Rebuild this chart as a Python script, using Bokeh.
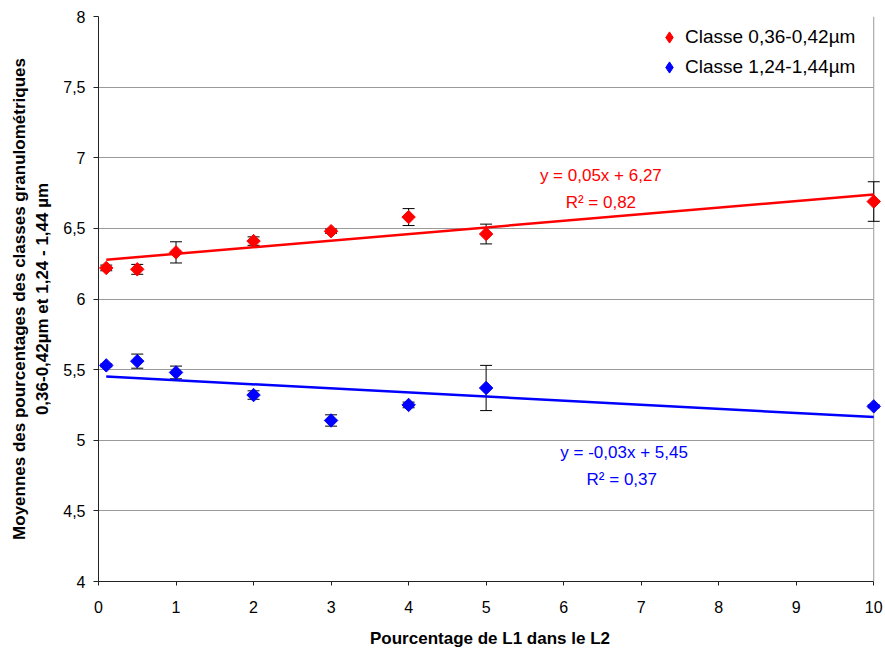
import numpy as np
from bokeh.plotting import figure
from bokeh.models import (ColumnDataSource, Whisker, TeeHead, FixedTicker, Label,
                          Legend, LegendItem, Range1d, Span)
from bokeh.embed import file_html
from bokeh.resources import INLINE

# ---- data ----
x_vals = [0.1, 0.5, 1, 2, 3, 4, 5, 10]
red_y = [6.22, 6.21, 6.33, 6.41, 6.48, 6.58, 6.46, 6.69]
red_err = [0.02, 0.035, 0.075, 0.03, 0.015, 0.06, 0.07, 0.14]
blue_y = [5.53, 5.56, 5.48, 5.32, 5.14, 5.25, 5.37, 5.24]
blue_err = [0.01, 0.05, 0.045, 0.03, 0.04, 0.02, 0.16, 0.01]
red_name = "Classe 0,36-0,42µm"
blue_name = "Classe 1,24-1,44µm"
red_eq = ["y = 0,05x + 6,27", "R² = 0,82"]
blue_eq = ["y = -0,03x + 5,45", "R² = 0,37"]
x_ticks = [0, 1, 2, 3, 4, 5, 6, 7, 8, 9, 10]
y_ticks = [4, 4.5, 5, 5.5, 6, 6.5, 7, 7.5, 8]
y_tick_labels = ["4", "4,5", "5", "5,5", "6", "6,5", "7", "7,5", "8"]
x_title = "Pourcentage de L1 dans le L2"
y_title = "Moyennes des pourcentages des classes granulométriques\n0,36-0,42µm et 1,24 - 1,44 µm"

RED = "#ff0000"
BLUE = "#0000ff"
GRID = "#9a9a9a"
FONT = "Liberation Sans"

p = figure(width=884, height=650, output_backend="svg", toolbar_location=None,
           x_range=Range1d(0, 10.1), y_range=Range1d(4, 8),
           min_border_left=98, min_border_right=3, min_border_top=16, min_border_bottom=68)
p.background_fill_color = "white"
p.border_fill_color = "white"
p.outline_line_color = None
p.xgrid.visible = False
p.ygrid.grid_line_color = GRID
p.ygrid.grid_line_width = 1
p.ygrid.ticker = FixedTicker(ticks=y_ticks)
p.ygrid.cross_bounds = (0, 10)
p.add_layout(Span(location=10, dimension="height", line_color=GRID, line_width=1, level="underlay"))

p.xaxis.ticker = FixedTicker(ticks=x_ticks)
p.xaxis.bounds = (0, 10)
p.yaxis.ticker = FixedTicker(ticks=y_ticks)
p.yaxis.major_label_overrides = {t: l for t, l in zip(y_ticks, y_tick_labels)}
for ax in (p.xaxis, p.yaxis):
    ax.axis_line_color = "#222222"
    ax.major_tick_line_color = "#222222"
    ax.minor_tick_line_color = None
    ax.major_tick_in = 0
    ax.major_label_text_font = FONT
    ax.major_label_text_font_size = "16px"
    ax.major_label_text_color = "black"
    ax.axis_label_text_font = FONT
    ax.axis_label_text_font_size = "17px"
    ax.axis_label_text_font_style = "bold"
    ax.axis_label_text_color = "black"
p.xaxis.major_tick_out = 4
p.yaxis.major_tick_out = 5
p.xaxis.major_label_standoff = 15
p.yaxis.major_label_standoff = 8
p.xaxis.axis_label_standoff = 13
p.yaxis.axis_label_standoff = 8
p.xaxis.axis_label = x_title
p.yaxis.axis_label = y_title

# trend lines from least squares fit of the data
xs = np.array(x_vals, dtype=float)
for yv, col in ((red_y, RED), (blue_y, BLUE)):
    k, b = np.polyfit(xs, np.array(yv), 1)
    xl = [min(x_vals), max(x_vals)]
    p.line(xl, [k * v + b for v in xl], line_color=col, line_width=2.5)

items = []
for yv, ev, col, name in ((red_y, red_err, RED, red_name), (blue_y, blue_err, BLUE, blue_name)):
    src = ColumnDataSource(dict(x=x_vals, y=yv,
                                lo=[a - e for a, e in zip(yv, ev)],
                                hi=[a + e for a, e in zip(yv, ev)]))
    w = Whisker(source=src, base="x", lower="lo", upper="hi", dimension="height",
                line_color="black", line_width=1, level="underlay",
                upper_head=TeeHead(size=12, line_color="black", line_width=1),
                lower_head=TeeHead(size=12, line_color="black", line_width=1))
    p.add_layout(w)
    p.scatter("x", "y", source=src, marker="square", size=9.5, angle=np.pi / 4,
              fill_color=col, line_color=col)
    # legend swatch renderer: a smaller diamond fully hidden inside each rotated square
    # (the legend does not draw glyph angles, so the diamond marker is used there)
    sw = p.scatter("x", "y", source=src, marker="diamond", size=8,
                   fill_color=col, line_color=col)
    items.append(LegendItem(label=name, renderers=[sw]))

legend = Legend(items=items, location=(557, 499), margin=0, padding=6, spacing=0,
                glyph_width=28, glyph_height=30, label_height=30, label_standoff=2,
                label_text_font=FONT, label_text_font_size="19px", label_text_color="black",
                border_line_color=None, background_fill_alpha=0)
p.add_layout(legend)

# regression equations
for txt, (lx, ly), col in ((red_eq[0], (6.48, 6.875), RED), (red_eq[1], (6.48, 6.685), RED),
                           (blue_eq[0], (6.78, 4.912), BLUE), (blue_eq[1], (6.75, 4.72), BLUE)):
    p.add_layout(Label(x=lx, y=ly, text=txt, text_color=col, text_font=FONT,
                       text_font_size="17px", text_align="center", text_baseline="middle"))

open("out.html", "w").write(file_html(p, INLINE))
